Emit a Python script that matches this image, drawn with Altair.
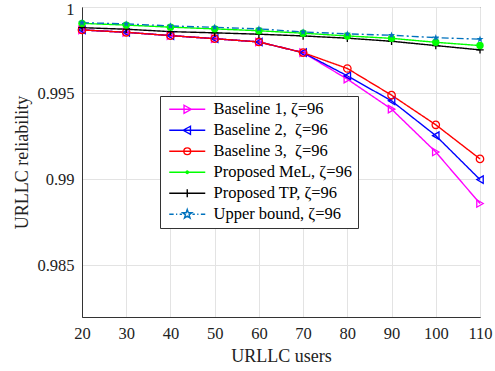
import altair as alt
import pandas as pd

# URLLC reliability versus number of URLLC users
users = [20, 30, 40, 50, 60, 70, 80, 90, 100, 110]
baseline1 = [0.99867, 0.99853, 0.99834, 0.99816, 0.99797, 0.99735, 0.99581, 0.99407, 0.99158, 0.98859]
baseline2 = [0.99867, 0.99853, 0.99834, 0.99816, 0.99797, 0.99735, 0.99600, 0.99455, 0.99253, 0.98998]
baseline3 = [0.99867, 0.99853, 0.99834, 0.99816, 0.99797, 0.99735, 0.99643, 0.99488, 0.99316, 0.99118]
proposed_mel = [0.99905, 0.99895, 0.99883, 0.99873, 0.99862, 0.99848, 0.99832, 0.99818, 0.99795, 0.99776]
proposed_tp = [0.99880, 0.99871, 0.99857, 0.99850, 0.99842, 0.99832, 0.99819, 0.99801, 0.99776, 0.99751]
upper_bound = [0.99909, 0.99902, 0.99890, 0.99882, 0.99873, 0.99855, 0.99844, 0.99836, 0.99822, 0.99813]

names = [
    "Baseline 1, ζ=96",
    "Baseline 2,\u00a0 ζ=96",
    "Baseline 3,\u00a0 ζ=96",
    "Proposed MeL, ζ=96",
    "Proposed TP, ζ=96",
    "Upper bound, ζ=96",
]
series_values = [baseline1, baseline2, baseline3, proposed_mel, proposed_tp, upper_bound]
colors = ["#FF00FF", "#0000FF", "#FF0000", "#00FF00", "#000000", "#0072BD"]

rows = []
for name, vals in zip(names, series_values):
    for u, v in zip(users, vals):
        rows.append({"users": u, "reliability": v, "series": name})
df = pd.DataFrame(rows)

FONT = "Liberation Serif"

# marker glyphs used on the curves
STAR = ("M0,-1L0.235,-0.324L0.951,-0.309L0.380,0.124L0.588,0.809L0,0.4"
        "L-0.588,0.809L-0.380,0.124L-0.951,-0.309L-0.235,-0.324Z")
PLUS = "M-1,0H1M0,-1V1"
marker_shapes = ["triangle-right", "triangle-left", "circle", "circle", PLUS, STAR]
marker_sizes = [55, 55, 60, 14, 45, 160]

# legend glyphs: a short line segment with the marker in its middle
LINE = "M-4.5,0H4.5"
leg_shapes = [
    LINE + "M-0.8,-1L1,0L-0.8,1Z",
    LINE + "M0.8,-1L-1,0L0.8,1Z",
    LINE + "M-0.85,0A0.85,0.85,0,1,0,0.85,0A0.85,0.85,0,1,0,-0.85,0",
    LINE + "M-0.3,0A0.3,0.3,0,1,0,0.3,0A0.3,0.3,0,1,0,-0.3,0",
    LINE + "M0,-1V1",
    "M-4.5,0H-3.4M-2.8,0H-2.5M-1.9,0H-1.3M1.3,0H1.9M2.5,0H2.8M3.4,0H4.5"
    "M0,-1.2L0.282,-0.389L1.141,-0.371L0.456,0.149L0.706,0.971L0,0.48"
    "L-0.706,0.971L-0.456,0.149L-1.141,-0.371L-0.282,-0.389Z",
]

x_enc = alt.X(
    "users:Q",
    scale=alt.Scale(domain=[20, 110], nice=False),
    axis=alt.Axis(
        values=users, title="URLLC users", titleY=39, titleBaseline="middle",
        labelFlush=False,
    ),
)
y_enc = alt.Y(
    "reliability:Q",
    scale=alt.Scale(domain=[0.982, 1.0], nice=False, zero=False),
    axis=alt.Axis(
        values=[0.985, 0.99, 0.995, 1.0], format=".3~f", title="URLLC reliability",
        titleX=-60, titleY=155, titleBaseline="middle", titleAngle=-90,
        labelFlush=False,
        # nudge the top label ("1") down slightly so it stays inside the page
        labelOffset=alt.ExprRef("datum.value >= 1 ? 2 : 0"),
    ),
)
color_scale = alt.Scale(domain=names, range=colors)

base = alt.Chart(df).encode(x=x_enc, y=y_enc)

lines = base.mark_line(strokeWidth=1.4).encode(
    color=alt.Color("series:N", scale=color_scale, legend=None),
    strokeDash=alt.StrokeDash(
        "series:N",
        scale=alt.Scale(domain=names, range=[[1, 0]] * 5 + [[7, 3, 2, 3]]),
        legend=None,
    ),
    detail="series:N",
)

marker_enc = dict(
    color=alt.Color("series:N", scale=color_scale, legend=None),
    shape=alt.Shape("series:N", scale=alt.Scale(domain=names, range=marker_shapes), legend=None),
    size=alt.Size("series:N", scale=alt.Scale(domain=names, range=marker_sizes), legend=None),
)

open_markers = base.mark_point(filled=False, strokeWidth=1.3, opacity=1).encode(
    **marker_enc
).transform_filter(
    alt.FieldOneOfPredicate(field="series", oneOf=[names[0], names[1], names[2], names[4]])
)

filled_markers = base.mark_point(filled=True, opacity=1).encode(
    **marker_enc
).transform_filter(
    alt.FieldOneOfPredicate(field="series", oneOf=[names[3], names[5]])
)

legend_cfg = alt.Legend(
    title=None,
    orient="none",
    legendX=78,
    legendY=89,
    symbolSize=64,
    symbolStrokeWidth=1.4,
    symbolOpacity=1,
    symbolOffset=14,
    labelOffset=18,
    labelFont=FONT,
    labelFontSize=16.5,
    labelColor="#000000",
    labelLimit=0,
    rowPadding=4,
    padding=5,
    fillColor="#ffffff",
    strokeColor="#333333",
)

legend_layer = base.mark_point(filled=False, opacity=0).encode(
    color=alt.Color("series:N", scale=color_scale, legend=legend_cfg),
    shape=alt.Shape("series:N", scale=alt.Scale(domain=names, range=leg_shapes), legend=legend_cfg),
)

chart = (
    alt.layer(lines, open_markers, filled_markers, legend_layer)
    .resolve_scale(color="independent", shape="independent", size="independent")
    .properties(
        width=398,
        height=310,
        autosize=alt.AutoSizeParams(type="none"),
        padding={"left": 82, "top": 7, "right": 15, "bottom": 54},
    )
    .configure_view(stroke="#333333", strokeWidth=1)
    .configure_axis(
        labelFont=FONT,
        titleFont=FONT,
        labelFontSize=16.5,
        titleFontSize=18,
        labelColor="#222222",
        titleColor="#222222",
        titleFontWeight="normal",
        gridColor="#E3E3E3",
        gridWidth=1,
        domainColor="#333333",
        ticks=False,
        labelPadding=8,
    )
)

chart.save("out.html", embed_options={"renderer": "svg", "actions": False})
